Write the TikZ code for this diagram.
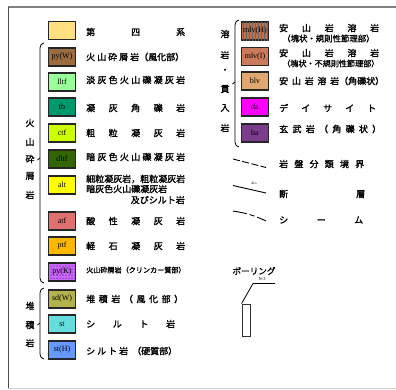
\documentclass[tikz,border=0pt]{standalone}
\usepackage{fontspec}
\setmainfont{Liberation Serif}
\newfontfamily\jp[FakeBold=1.6]{Noto Sans CJK JP}
\newfontfamily\jpn{Noto Sans CJK JP}
\usetikzlibrary{patterns}
\newcommand\spx[2]{\makebox[#1pt][s]{#2}}
\definecolor{cQ}{HTML}{FFDF80}
\definecolor{cpyW}{HTML}{9C6B3F}
\definecolor{clltf}{HTML}{99FF99}
\definecolor{ctb}{HTML}{00996B}
\definecolor{cctf}{HTML}{CCFF00}
\definecolor{cdltf}{HTML}{336600}
\definecolor{calt}{HTML}{FFFF00}
\definecolor{catf}{HTML}{E07070}
\definecolor{cptf}{HTML}{FFB800}
\definecolor{cpyK}{HTML}{CC66FF}
\definecolor{csdW}{HTML}{B3B34D}
\definecolor{cst}{HTML}{66DDDD}
\definecolor{cstH}{HTML}{6699FF}
\definecolor{cmlvH}{HTML}{C0704A}
\definecolor{cmlvI}{HTML}{CC7A5C}
\definecolor{cblv}{HTML}{E0A870}
\definecolor{cda}{HTML}{FF00FF}
\definecolor{cba}{HTML}{7A3C8C}
\definecolor{frgray}{HTML}{808080}
\tikzset{
  sw/.style={draw=black!85, line width=1.3pt, minimum width=27pt, minimum height=18pt, inner sep=0pt, font=\rmfamily\fontsize{8}{8}\selectfont},
  tx/.style={anchor=west, inner sep=0pt, font=\jp\fontsize{9}{9}\selectfont},
  bl/.style={inner sep=0pt, font=\jp\fontsize{9}{9}\selectfont},
  brk/.style={line width=0.8pt},
  leg/.style={line width=0.9pt}
}
\begin{document}
\begin{tikzpicture}[x=1pt,y=-1pt]
\useasboundingbox (0,0) rectangle (396,389);
% frame
\draw[frgray, line width=2pt] (8,7) -- (396,7);
\draw[black!70, line width=1pt] (8,7) -- (8,389);
\draw[black!20, line width=1pt] (8,388.5) -- (396,388.5);

% left swatches
\node[sw, fill=cQ] (q) at (62,30.5) {};
\node[sw, fill=cpyW] (pyw) at (62,57) {py(W)};
\node[sw, fill=clltf] (lltf) at (62,82) {lltf};
\node[sw, fill=ctb] (tb) at (62,107) {tb};
\node[sw, fill=cctf] (ctf) at (62,133) {ctf};
\node[sw, fill=cdltf] (dltf) at (62,159) {dltf};
\node[sw, fill=calt] (alt) at (62,185) {alt};
\node[sw, fill=catf] (atf) at (62,221) {atf};
\node[sw, fill=cptf] (ptf) at (62,246) {ptf};
\node[sw, fill=cpyK, postaction={pattern=dots, pattern color=black}] (pyk) at (62,272) {py(K)};
\node[sw, fill=csdW] (sdw) at (62,299) {sd(W)};
\node[sw, fill=cst] (st) at (62,324) {st};
\node[sw, fill=cstH] (sth) at (62,350) {st(H)};

% left texts
\node[tx] (tq) at (86,32) {\spx{99}{第 四 系}};
\node[tx] (tpyw) at (86,57) {\spx{53}{火 山 砕 屑 岩}（風化部）};
\node[tx] (tlltf) at (86,80) {\spx{99}{淡 灰 色 火 山 礫 凝 灰 岩}};
\node[tx] (ttb) at (86,108) {\spx{99}{凝 灰 角 礫 岩}};
\node[tx] (tctf) at (86,133) {\spx{99}{粗 粒 凝 灰 岩}};
\node[tx] (tdltf) at (86,157) {\spx{99}{暗 灰 色 火 山 礫 凝 灰 岩}};
\node[tx] (talt1) at (86,179) {細粒凝灰岩，粗粒凝灰岩};
\node[tx] (talt2) at (86,189) {暗灰色火山礫凝灰岩};
\node[tx, anchor=east] (talt3) at (185,200) {及びシルト岩};
\node[tx] (tatf) at (86,221) {\spx{99}{酸 性 凝 灰 岩}};
\node[tx] (tptf) at (86,246) {\spx{99}{軽 石 凝 灰 岩}};
\node[tx, font=\jp\fontsize{7.1}{7.1}\selectfont] (tpyk) at (86,270) {火山砕屑岩（クリンカー質部）};
\node[tx] (tsdw) at (86,299) {\spx{97}{堆 積 岩 （ 風 化 部 ）}};
\node[tx] (tst) at (86,324) {\spx{89}{シ ル ト 岩}};
\node[tx] (tsth) at (86,351) {\spx{42}{シ ル ト 岩}\hspace{4pt}（硬質部）};

% left brackets
\draw[brk] (44,43) to[out=180,in=90] (40,48) -- (40,278) to[out=-90,in=180] (44,283);
\draw[brk] (40,158) -- (37.5,160);
\node[bl] (l1) at (30,123) {火};
\node[bl] (l2) at (30,142) {山};
\node[bl] (l3) at (30,159) {砕};
\node[bl] (l4) at (30,176) {屑};
\node[bl] (l5) at (30,195) {岩};

\draw[brk] (44,288) to[out=180,in=90] (40,293) -- (40,354) to[out=-90,in=180] (44,359);
\draw[brk] (40,323) -- (37.5,325);
\node[bl] (m1) at (30,306) {堆};
\node[bl] (m2) at (30,325) {積};
\node[bl] (m3) at (30,343) {岩};

% right swatches
\node[sw, fill=cmlvH, postaction={pattern=vertical lines, pattern color=black!60}] (mlvh) at (255,31) {mlv(H)};
\node[sw, fill=cmlvI] (mlvi) at (255,56.5) {mlv(I)};
\node[sw, fill=cblv] (blv) at (255,81) {blv};
\node[sw, fill=cda] (da) at (255,107) {da};
\node[sw, fill=cba] (ba) at (255,133) {ba};

% right texts
\node[tx] (tmh1) at (279,28) {\spx{100}{安 山 岩 溶 岩}};
\node[tx, font=\jp\fontsize{8.4}{8.4}\selectfont] (tmh2) at (282,38.5) {（塊状・規則性節理部）};
\node[tx] (tmi1) at (279,53) {\spx{100}{安 山 岩 溶 岩}};
\node[tx, font=\jp\fontsize{8.1}{8.1}\selectfont] (tmi2) at (282,63.5) {（塊状・不規則性節理部）};
\node[tx] (tblv) at (279,81) {\spx{60}{安 山 岩 溶 岩}（角礫状）};
\node[tx] (tda) at (279,108) {\spx{97}{デ イ サ イ ト}};
\node[tx] (tba) at (279,129) {\spx{102}{玄 武 岩 （ 角 礫 状 ）}};

% right bracket
\draw[brk] (239,20) to[out=180,in=90] (235,25) -- (235,142) to[out=-90,in=180] (239,147);
\draw[brk] (235,82) -- (232.5,84);
\node[bl] (r1) at (225,34) {溶};
\node[bl] (r2) at (225,55) {岩};
\node[bl] (r3) at (225,71) {・};
\node[bl] (r4) at (225,89) {貫};
\node[bl] (r5) at (225,108) {入};
\node[bl] (r6) at (225,128) {岩};

% line legend
\draw[leg, dash pattern=on 7pt off 2.5pt] (233,159) -- (266,167.5);
\node[tx] (tbd) at (279,164) {\spx{85}{岩 盤 分 類 境 界}};
\draw[leg] (233,185.5) -- (266,193);
\node[inner sep=0pt, font=\rmfamily\fontsize{3.5}{3.5}\selectfont] (fl) at (254,183) {df-s};
\node[tx] (tfl) at (279,194) {\spx{86}{断 層}};
\draw[leg, dash pattern=on 14pt off 3pt on 5pt off 3pt] (233,211) to[bend left=8] (266,221);
\node[tx] (tsm) at (279,220) {\spx{84}{シ ー ム}};

% boring
\node[inner sep=0pt, font=\jp\fontsize{8.6}{8.6}\selectfont] (bor) at (254,271) {ボーリング};
\node[inner sep=0pt, font=\rmfamily\fontsize{4.5}{4.5}\selectfont] (bn) at (262,279) {N-3};
\node[draw=black!80, line width=0.9pt, minimum width=8pt, minimum height=32pt, inner sep=0pt] (hole) at (246,320) {};
\coordinate (b1) at (253,283.5);
\coordinate (b2) at (275,283.5);
\draw[line width=0.8pt] (hole.north west) -- (b1) -- (b2);
\end{tikzpicture}
\end{document}
